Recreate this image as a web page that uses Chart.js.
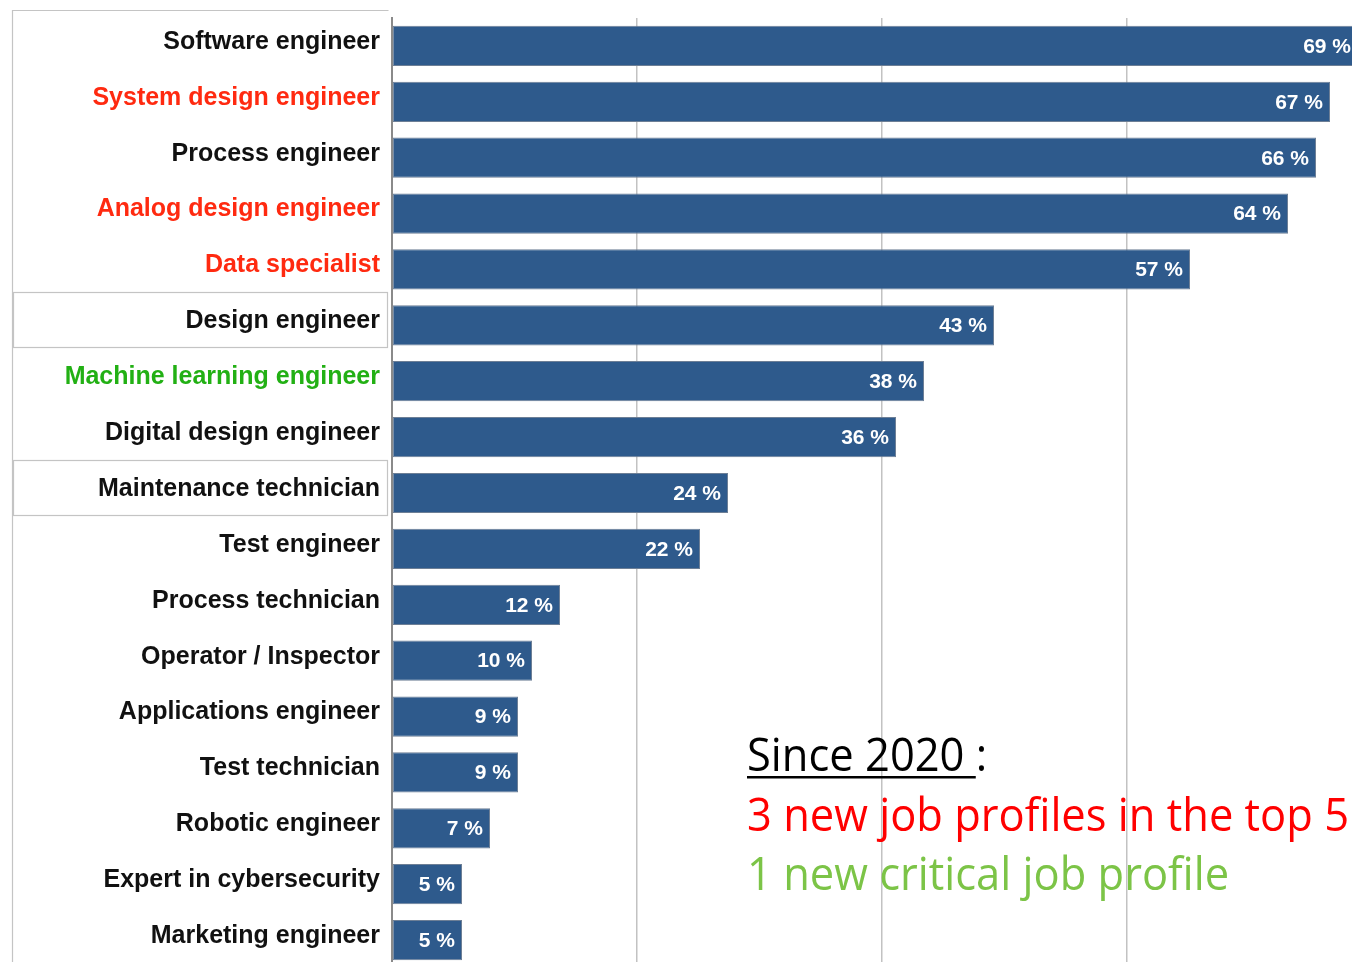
<!DOCTYPE html>
<html>
<head>
<meta charset="utf-8">
<script src="https://cdn.jsdelivr.net/npm/chart.js@4"></script>
<style>
  html, body { margin: 0; padding: 0; background: #fff; overflow: hidden; }
  #wrap { width: 1352px; height: 962px; overflow: hidden; position: relative; }
  canvas { display: block; }
</style>
</head>
<body>
<div id="wrap"><canvas id="jobsChart" width="1372" height="968"></canvas></div>
<script>
// Job profiles and the share of answers for each (%)
const categories = [
    'Software engineer', 'System design engineer', 'Process engineer',
    'Analog design engineer', 'Data specialist', 'Design engineer',
    'Machine learning engineer', 'Digital design engineer', 'Maintenance technician',
    'Test engineer', 'Process technician', 'Operator / Inspector',
    'Applications engineer', 'Test technician', 'Robotic engineer',
    'Expert in cybersecurity', 'Marketing engineer'
];
const shares = [69, 67, 66, 64, 57, 43, 38, 36, 24, 22, 12, 10, 9, 9, 7, 5, 5];

// Profiles highlighted in the label column
const newInTop5 = ['System design engineer', 'Analog design engineer', 'Data specialist'];
const newCritical = ['Machine learning engineer'];
const boxedLabels = ['Design engineer', 'Maintenance technician'];

// Value axis
const axisMax = 70;
const axisStep = 17.5;

// Side note
const noteTitle = 'Since 2020';
const noteLines = ['3 new job profiles in the top 5', '1 new critical job profile'];

const barColor = '#2e5a8c';
const redText = '#ff2a10';
const greenText = '#22b014';

function labelColor(name) {
    if (newInTop5.includes(name)) return redText;
    if (newCritical.includes(name)) return greenText;
    return '#111';
}

// Frame around the label column, plus boxes around some labels
const labelPanel = {
    id: 'labelPanel',
    beforeDraw(chart) {
        const ctx = chart.ctx;
        const y = chart.scales.y;
        const band = y.getPixelForValue(1) - y.getPixelForValue(0);
        ctx.save();
        ctx.strokeStyle = '#c4c4c4';
        ctx.lineWidth = 1.2;
        ctx.beginPath();
        ctx.moveTo(12.5, chart.height);
        ctx.lineTo(12.5, 10.5);
        ctx.lineTo(388.5, 10.5);
        ctx.stroke();
        boxedLabels.forEach(name => {
            const cy = y.getPixelForValue(categories.indexOf(name)) - 5;
            ctx.strokeRect(13.5, Math.round(cy - band / 2) + 0.5, 374, Math.round(band) - 1);
        });
        ctx.restore();
    }
};

// Percent labels inside the end of each bar
const valueLabels = {
    id: 'valueLabels',
    afterDatasetsDraw(chart) {
        const ctx = chart.ctx;
        const meta = chart.getDatasetMeta(0);
        ctx.save();
        ctx.fillStyle = '#fff';
        ctx.font = 'bold 21px "Liberation Sans", Arial, sans-serif';
        ctx.textAlign = 'right';
        ctx.textBaseline = 'middle';
        meta.data.forEach((bar, i) => {
            const x = Math.min(bar.x, 1358) - 7;
            ctx.fillText(shares[i] + ' %', x, bar.y + 1);
        });
        ctx.restore();
    }
};

// "Since 2020" note in the lower right
const sideNote = {
    id: 'sideNote',
    afterDraw(chart) {
        const ctx = chart.ctx;
        const left = 747;
        ctx.save();
        ctx.font = '46px "Open Sans", sans-serif';
        const squeeze = 602 / ctx.measureText(noteLines[0]).width;
        ctx.translate(left, 0);
        ctx.scale(squeeze, 1);
        ctx.textBaseline = 'alphabetic';

        ctx.fillStyle = '#000';
        ctx.fillText(noteTitle + ' :', 0, 771);
        const ulWidth = ctx.measureText(noteTitle + ' ').width;
        ctx.fillRect(0, 776, ulWidth, 2.5);

        ctx.fillStyle = '#ff0000';
        ctx.fillText(noteLines[0], 0, 831);
        ctx.fillStyle = '#7cc447';
        ctx.fillText(noteLines[1], 0, 890);
        ctx.restore();
    }
};

const ctx = document.getElementById('jobsChart').getContext('2d');
new Chart(ctx, {
    type: 'bar',
    data: {
        labels: categories,
        datasets: [{
            data: shares,
            backgroundColor: barColor,
            borderColor: '#6d7f96',
            borderWidth: 1,
            borderSkipped: false,
            barPercentage: 0.8,
            categoryPercentage: 0.9
        }]
    },
    options: {
        indexAxis: 'y',
        responsive: false,
        animation: false,
        layout: { padding: { top: 18, left: 0, right: 0, bottom: 0 } },
        plugins: {
            legend: { display: false },
            tooltip: { enabled: false }
        },
        scales: {
            x: {
                min: 0,
                max: axisMax,
                afterFit(scale) { scale.height = 0; },
                ticks: { display: false, stepSize: axisStep },
                grid: { color: '#c2c2c2', lineWidth: 1.5, drawTicks: false },
                border: { display: false }
            },
            y: {
                afterFit(scale) {
                    scale.width = 392;
                    scale.paddingTop = 0;
                    scale.paddingBottom = 0;
                },
                grid: { display: false },
                border: { color: '#8a8a8a', width: 2 },
                ticks: {
                    padding: 4,
                    labelOffset: -4,
                    color: c => labelColor(categories[c.index]),
                    font: { family: '"Liberation Sans", Arial, sans-serif', size: 25, weight: 'bold' }
                }
            }
        }
    },
    plugins: [labelPanel, valueLabels, sideNote]
});
</script>
</body>
</html>
